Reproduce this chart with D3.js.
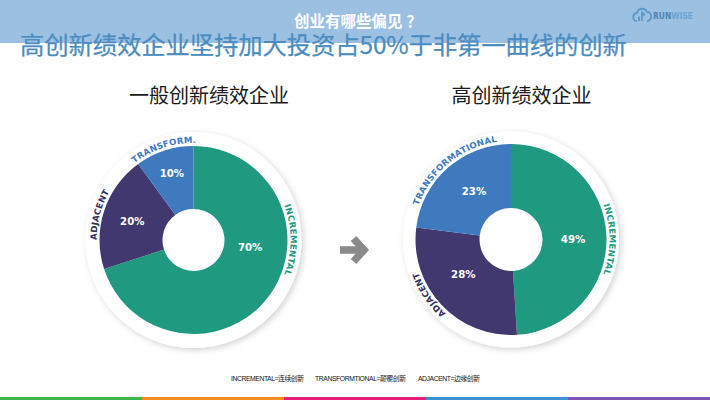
<!DOCTYPE html>
<html>
<head>
<meta charset="utf-8">
<script src="https://cdn.jsdelivr.net/npm/d3@7"></script>
<style>
  html, body { margin: 0; padding: 0; background: #fff; }
  svg { display: block; }
  .cjk { font-family: "Noto Sans CJK SC", sans-serif; }
  .latin { font-family: "DejaVu Sans", sans-serif; font-weight: 700; }
</style>
</head>
<body>
<svg id="chart"></svg>
<script>
// Chart values
const generalShares = [70, 20, 10];
const highShares = [49, 28, 23];
const generalLabels = ["INCREMENTAL", "ADJACENT", "TRANSFORM."];
const highLabels = ["INCREMENTAL", "ADJACENT", "TRANSFORMATIONAL"];
const sliceColors = ["#1f9a80", "#40386f", "#3f7abf"];
const labelColors = ["#1f9a80", "#33305f", "#3f7abf"];
const footerColors = ["#3cb54a", "#f58a1f", "#e91e7b", "#3d8fd1", "#7b57b5"];

const width = 710;
const height = 400;

const svg = d3.select("#chart")
    .attr("width", width)
    .attr("height", height)
    .attr("viewBox", [0, 0, width, height]);

const defs = svg.append("defs");
defs.append("filter")
    .attr("id", "discShadow")
    .attr("x", "-20%").attr("y", "-20%")
    .attr("width", "140%").attr("height", "140%")
    .append("feDropShadow")
    .attr("dx", 2).attr("dy", 2)
    .attr("stdDeviation", 3)
    .attr("flood-color", "#000")
    .attr("flood-opacity", 0.18);

// Header band
svg.append("rect")
    .attr("width", width)
    .attr("height", 43)
    .attr("fill", "#9cc0e2");

const subtitle = svg.append("text")
    .attr("class", "cjk")
    .attr("x", 294).attr("y", 27)
    .attr("font-size", 15.5)
    .attr("font-weight", 700)
    .attr("fill", "#fff")
    .text("创业有哪些偏见");
subtitle.append("tspan").attr("dx", 4).text("？");

svg.append("text")
    .attr("class", "cjk")
    .attr("x", 20).attr("y", 54)
    .attr("font-size", 24.4)
    .attr("font-weight", 400)
    .attr("fill", "#4a8cc0")
    .attr("stroke", "#4a8cc0")
    .attr("stroke-width", 0.25)
    .attr("textLength", 607)
    .text("高创新绩效企业坚持加大投资占50%于非第一曲线的创新");

// Logo
const logo = svg.append("g").attr("transform", "translate(632,5.5)");
logo.append("path")
    .attr("d", "M5 15.5 C0 15.5 0 8 5 7.5 C6 2 13 2 15 6.5 C20 6 21 15.5 15 15.5 M7 15.5 L7 11 M10 15.5 L10 7 L13 10")
    .attr("fill", "none")
    .attr("stroke", "#5b98c9")
    .attr("stroke-width", 1.8);
logo.append("text")
    .attr("class", "latin")
    .attr("x", 21).attr("y", 13)
    .attr("font-size", 9)
    .attr("textLength", 40)
    .attr("lengthAdjust", "spacingAndGlyphs")
    .attr("fill", "#4a86b8")
    .text("RUN")
    .append("tspan")
    .attr("fill", "#6aa5d6")
    .text("WISE");

// Pie headings
[["一般创新绩效企业", 209], ["高创新绩效企业", 521.5]].forEach(([label, x]) => {
    svg.append("text")
        .attr("class", "cjk")
        .attr("x", x).attr("y", 102.5)
        .attr("text-anchor", "middle")
        .attr("font-size", 20)
        .attr("fill", "#1a1a1a")
        .text(label);
});

const pie = d3.pie().sort(null).value(d => d);
const rad = d => d * Math.PI / 180;

function drawDonut(cfg) {
    const g = svg.append("g").attr("transform", `translate(${cfg.cx},${cfg.cy})`);

    g.append("circle")
        .attr("r", cfg.discR)
        .attr("fill", "#fff")
        .attr("filter", "url(#discShadow)");

    const arc = d3.arc().innerRadius(cfg.innerR).outerRadius(cfg.outerR);

    g.selectAll("path.slice")
        .data(pie(cfg.shares))
        .enter()
        .append("path")
        .attr("class", "slice")
        .attr("d", arc)
        .attr("fill", (d, i) => sliceColors[i]);

    // value labels
    g.selectAll("text.value")
        .data(cfg.shares)
        .enter()
        .append("text")
        .attr("class", "value latin")
        .attr("transform", (d, i) => `translate(${d3.pointRadial(rad(cfg.valueAngles[i]), cfg.valueRadii[i])})`)
        .attr("text-anchor", "middle")
        .attr("dy", "0.36em")
        .attr("font-size", 10.2)
        .attr("fill", "#fff")
        .text(d => d + "%");

    // curved labels, all run clockwise
    cfg.labels.forEach((label, i) => {
        const mid = rad(cfg.labelAngles[i] - 90);
        const p = d3.path();
        p.arc(0, 0, cfg.labelR, mid - Math.PI / 2, mid + Math.PI / 2);
        const id = `${cfg.id}-label-${i}`;
        g.append("path").attr("id", id).attr("d", p.toString()).attr("fill", "none");
        g.append("text")
            .attr("class", "latin")
            .attr("font-size", 8.6)
            .attr("letter-spacing", 0.25)
            .attr("fill", labelColors[i])
            .append("textPath")
            .attr("href", "#" + id)
            .attr("startOffset", "50%")
            .attr("text-anchor", "middle")
            .text(label);
    });
}

drawDonut({
    id: "general", cx: 193.5, cy: 240, discR: 108, outerR: 94, innerR: 31, labelR: 97,
    shares: generalShares, labels: generalLabels,
    labelAngles: [90, 285, 342],
    valueAngles: [97, 287, 342],
    valueRadii: [57, 64, 70]
});

drawDonut({
    id: "high", cx: 511, cy: 239.5, discR: 108, outerR: 95.5, innerR: 31.5, labelR: 98.5,
    shares: highShares, labels: highLabels,
    labelAngles: [90, 236, 321],
    valueAngles: [90, 234, 322.6],
    valueRadii: [62, 59, 61]
});

// Arrow between the pies
const arrow = svg.append("g")
    .attr("fill", "none")
    .attr("stroke", "#8a8a8a")
    .attr("stroke-width", 7.5);
arrow.append("line").attr("x1", 340).attr("y1", 250).attr("x2", 363).attr("y2", 250);
arrow.append("polyline").attr("points", "353.5,238.5 364,250 353.5,261.5");

// Legend line
[["INCREMENTAL=连续创新", 231, 73], ["TRANSFORMTIONAL=颠覆创新", 315, 91], ["ADJACENT=边缘创新", 418, 62]].forEach(([label, x, w]) => {
    svg.append("text")
        .attr("x", x).attr("y", 381)
        .attr("font-family", "'Liberation Sans', 'Noto Sans CJK SC', sans-serif")
        .attr("font-size", 6.8)
        .attr("fill", "#111")
        .attr("textLength", w)
        .text(label);
});

// Footer colour strip
const footerX = d3.scaleBand()
    .domain(d3.range(footerColors.length))
    .range([0, width]);

svg.selectAll("rect.footer")
    .data(footerColors)
    .enter()
    .append("rect")
    .attr("class", "footer")
    .attr("x", (d, i) => footerX(i))
    .attr("y", 397)
    .attr("width", footerX.bandwidth())
    .attr("height", 3)
    .attr("fill", d => d);
</script>
</body>
</html>
